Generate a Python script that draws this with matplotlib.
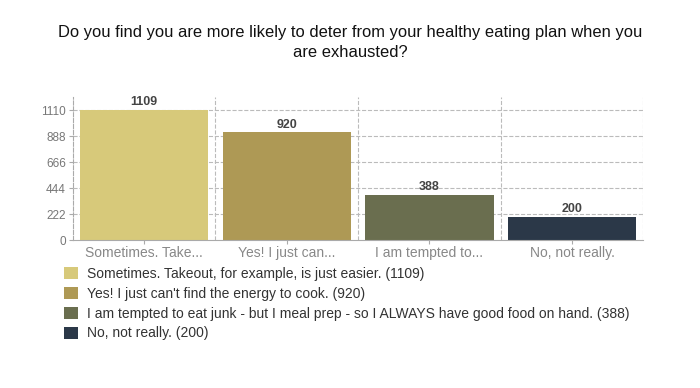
import matplotlib.pyplot as plt
from matplotlib.patches import Patch

plt.rcParams['font.family'] = ['Liberation Sans', 'DejaVu Sans']

# survey data
short_labels = ['Sometimes. Take...', 'Yes! I just can...', 'I am tempted to...', 'No, not really.']
long_labels = ['Sometimes. Takeout, for example, is just easier. (1109)',
               "Yes! I just can't find the energy to cook. (920)",
               'I am tempted to eat junk - but I meal prep - so I ALWAYS have good food on hand. (388)',
               'No, not really. (200)']
counts = [1109, 920, 388, 200]
yticks = [0, 222, 444, 666, 888, 1110]
colors = ['#d7c97a', '#ae9955', '#6a6e4f', '#2b3848']

fig = plt.figure(figsize=(7, 3.88), dpi=100)
ax = fig.add_axes([0.104, 0.381, 0.815, 0.369])

x = range(len(counts))
ax.bar(x, counts, width=0.9, color=colors, zorder=2)
for i, v in enumerate(counts):
    ax.text(i, v + 15, str(v), ha='center', va='bottom', fontsize=9,
            fontweight='bold', color='#444444', zorder=3)

ax.set_xlim(-0.5, len(counts) - 0.5)
ax.set_ylim(0, 1221)
ax.set_yticks(yticks)
ax.set_xticks(list(x))
ax.set_xticklabels(short_labels)
ax.tick_params(axis='y', labelsize=8.5, labelcolor='#777777', length=3, color='#aaaaaa', pad=2)
ax.tick_params(axis='x', labelsize=10, labelcolor='#888888', length=3, color='#aaaaaa', pad=1)

# dashed grid lines
for y in yticks[1:]:
    ax.axhline(y, color='#bbbbbb', linestyle='--', linewidth=0.8, zorder=1)
for b in [0.5, 1.5, 2.5, 3.5]:
    ax.axvline(b, color='#bbbbbb', linestyle='--', linewidth=0.8, zorder=1)

for s in ['top', 'right']:
    ax.spines[s].set_visible(False)
ax.spines['left'].set_color('#aaaaaa')
ax.spines['left'].set_linestyle('--')
ax.spines['bottom'].set_color('#aaaaaa')

fig.text(0.5, 0.89, 'Do you find you are more likely to deter from your healthy eating plan when you\nare exhausted?',
         ha='center', va='center', fontsize=11.9, color='#111111', linespacing=1.45)

handles = [Patch(facecolor=c) for c in colors]
fig.legend(handles, long_labels, loc='upper left', bbox_to_anchor=(0.082, 0.33),
           frameon=False, fontsize=10, labelcolor='#333333', handlelength=0.95,
           handleheight=0.95, handletextpad=0.7, labelspacing=0.42, borderpad=0)

fig.savefig('out.png', dpi=100)
